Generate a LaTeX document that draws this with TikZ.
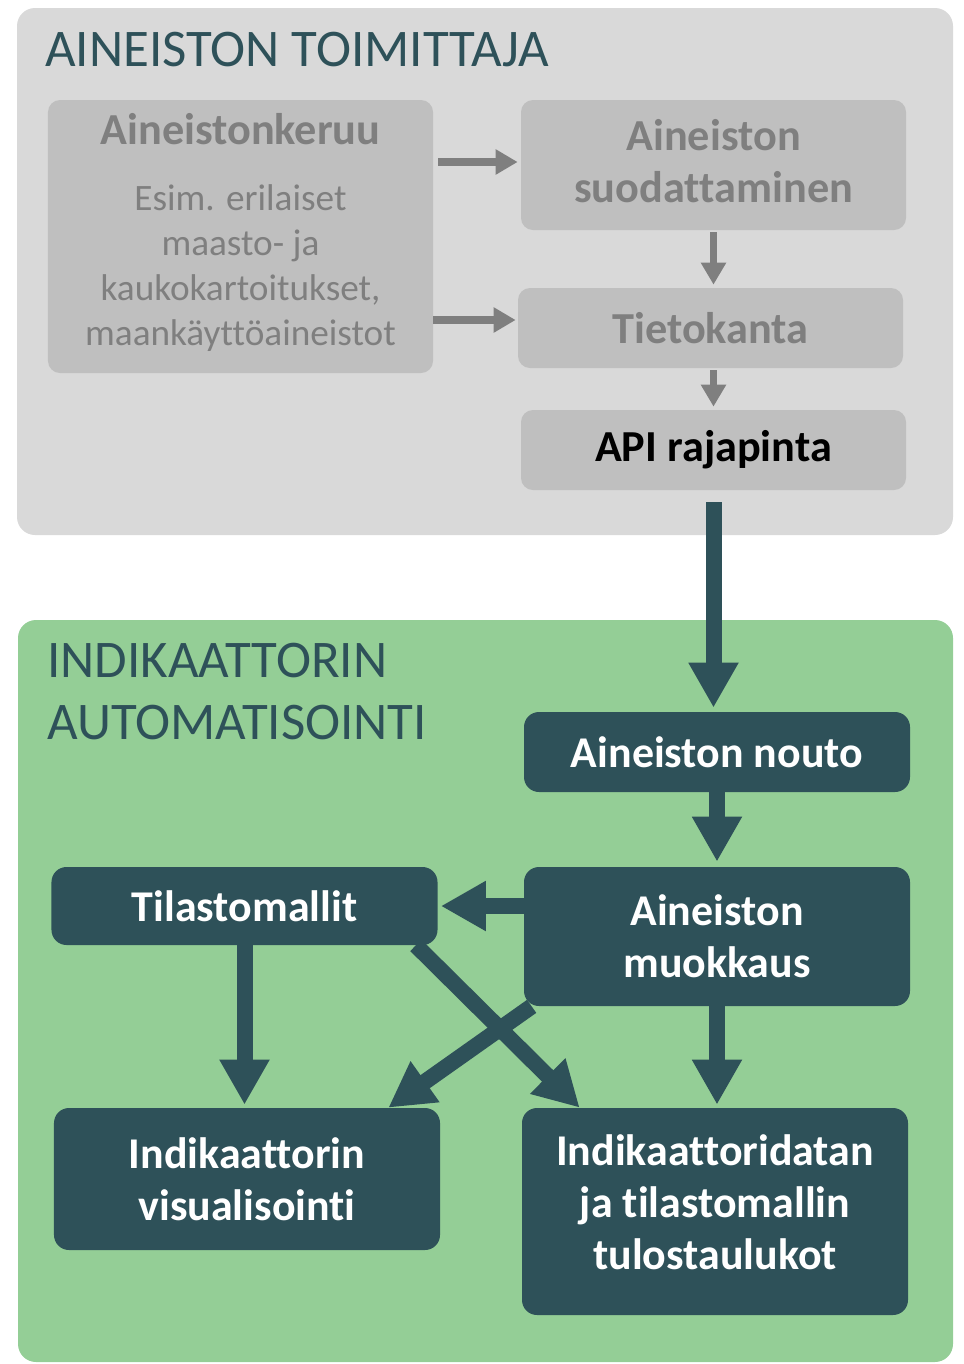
\documentclass[tikz,border=0pt]{standalone}
\usepackage{fontspec}
\setmainfont{Carlito}[Ligatures=NoCommon]
\usetikzlibrary{arrows.meta,calc}
\definecolor{panelgrey}{HTML}{D9D9D9}
\definecolor{boxgrey}{HTML}{BFBFBF}
\definecolor{textgrey}{HTML}{7F7F7F}
\definecolor{darkteal}{HTML}{2E5159}
\definecolor{panelgreen}{HTML}{94CE96}
\begin{document}
\begin{tikzpicture}[x=0.2mm, y=-0.2mm,
        greybox/.style={fill=boxgrey, rounded corners=2.4mm, text=textgrey, align=center,
            minimum width=77mm, inner sep=0pt, font=\fontsize{25.2}{29.5}\selectfont\bfseries},
        greytext/.style={text=textgrey, align=center, inner sep=0pt, font=\fontsize{21.2}{25.5}\selectfont},
        darkbox/.style={fill=darkteal, rounded corners=3mm, text=white, align=center,
            minimum width=77.2mm, inner sep=0pt, font=\fontsize{25}{29.5}\selectfont\bfseries},
        greyarrow/.style={draw=textgrey, line width=1.5mm, -{Triangle[width=4.8mm,length=4.4mm]}},
        darkarrow/.style={draw=darkteal, line width=3.2mm, -{Triangle[width=9.4mm,length=9mm]}},
        paneltitle/.style={text=darkteal, inner sep=0pt, align=left, font=\fontsize{30.1}{35}\selectfont}]
        \useasboundingbox (0,0) rectangle (964,1364);
        \fill[panelgrey, rounded corners=3.6mm] (17,8) rectangle (953,535);
        \fill[panelgreen, rounded corners=3.6mm] (18,620) rectangle (953,1362);

        \node[paneltitle, anchor=base west] (toptitle) at (45,66) {AINEISTON TOIMITTAJA};
        \node[paneltitle, anchor=north west] (greentitle) at (47,643) {INDIKAATTORIN\\AUTOMATISOINTI};

        \node[greybox, minimum height=54.6mm] (keruu) at (240.5,236.5) {};
        \node[greybox, fill=none, anchor=base] (keruuhead) at ($(keruu.north)+(0,45)$) {Aineistonkeruu};
        \node[greytext, anchor=north] (keruubody) at ($(keruu.north)+(0,85)$)
            {Esim. erilaiset\\maasto- ja\\kaukokartoitukset,\\maankäyttöaineistot};
        \node[greybox, minimum height=26mm] (suod) at (713.5,165) {};
        \node[greybox, fill=none] (suodtext) at ($(suod.center)+(0,-4)$) {Aineiston\\suodattaminen};
        \node[greybox, minimum height=16mm] (tieto) at (710.5,328) {Tietokanta};
        \node[greybox, minimum height=16mm, text=black] (api) at (713.5,450) {API rajapinta};

        \node[darkbox, minimum height=16mm] (nouto) at (717,752) {Aineiston nouto};
        \node[darkbox, minimum height=27.8mm] (muok) at (717,936.5) {Aineiston\\muokkaus};
        \node[darkbox, minimum height=15.6mm] (tilasto) at (244.5,906) {Tilastomallit};
        \node[darkbox, minimum height=28.4mm] (visu) at (247,1179) {Indikaattorin\\visualisointi};
        \node[darkbox, minimum height=41.4mm] (tulos) at (715,1211.5) {};
        \node[darkbox, fill=none] (tulostext) at ($(tulos.center)+(0,-9)$) {Indikaattoridatan\\ja tilastomallin\\tulostaulukot};

        \draw[greyarrow] ($(keruu.east |- suod.west)+(5,-3)$) -- ($(suod.west)+(-3,-3)$);
        \draw[greyarrow] ($(keruu.east |- tieto.west)+(0,-8)$) -- ($(tieto.west)+(-2,-8)$);
        \draw[greyarrow, shorten <=0.4mm, shorten >=0.6mm] (suod.south) -- (suod.south |- tieto.north);
        \draw[greyarrow, shorten <=0.4mm, shorten >=0.6mm] (api.north |- tieto.south) -- (api.north);

        \draw[darkarrow, shorten <=2.4mm, shorten >=0.8mm] (api.south) -- (api.south |- nouto.north);
        \draw[darkarrow, shorten >=1mm] (nouto.south) -- (muok.north);
        \draw[darkarrow, shorten >=0.6mm] (muok.west |- tilasto.east) -- (tilasto.east);
        \draw[darkarrow, shorten >=0.6mm] (tilasto.south) -- (tilasto.south |- visu.north);
        \draw[darkarrow] ($(tilasto.south east)+(-22,0)$) -- ($(tulos.north west)+(58,0)$);
        \draw[darkarrow] ($(muok.south west)+(8,0)$) -- ($(visu.north east)+(-52,0)$);
        \draw[darkarrow, shorten >=0.6mm] (muok.south) -- (muok.south |- tulos.north);
    \end{tikzpicture}
\end{document}
